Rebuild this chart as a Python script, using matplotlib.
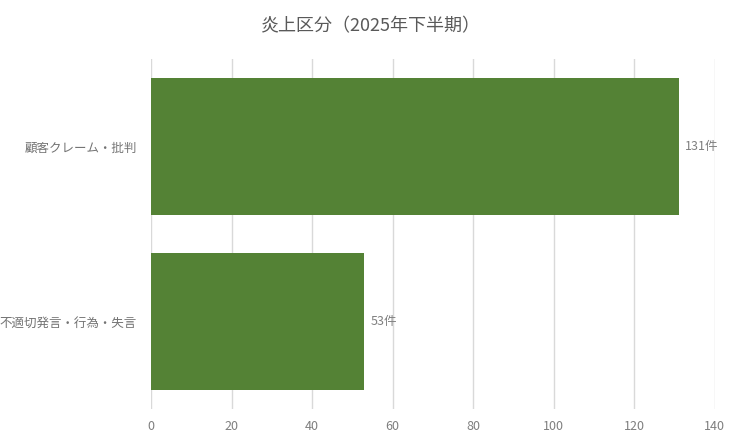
import matplotlib
matplotlib.use("Agg")
import matplotlib.pyplot as plt

plt.rcParams['font.family'] = ['Noto Sans CJK JP', 'DejaVu Sans']

categories = ["顧客クレーム・批判", "不適切発言・行為・失言"]
values = [131, 53]
xticks = [0, 20, 40, 60, 80, 100, 120, 140]
title = "炎上区分（2025年下半期）"
bar_color = "#548235"

fig = plt.figure(figsize=(7.41, 4.42), dpi=100)
ax = fig.add_axes([0.2038, 0.0747, 0.761, 0.792])

ypos = list(range(len(categories)))
ax.barh(ypos, values, height=0.78, color=bar_color, zorder=3)
ax.set_ylim(len(categories) - 0.5, -0.5)
ax.set_yticks(ypos)
ax.set_yticklabels(categories, fontsize=9, color="#737373")
ax.set_xlim(0, 140)
ax.set_xticks(xticks)
ax.set_xticklabels([str(t) for t in xticks], fontsize=9, color="#7f7f7f")
ax.tick_params(axis='both', length=0)
ax.tick_params(axis='x', pad=8)
ax.tick_params(axis='y', pad=10)
for s in ax.spines.values():
    s.set_visible(False)
ax.grid(axis='x', color="#d9d9d9", linewidth=1, zorder=0)
ax.set_axisbelow(True)

for y, v in zip(ypos, values):
    ax.text(v + 1.5, y, f"{v}件", va='center', ha='left', fontsize=9, color="#7f7f7f")

fig.text(0.5, 0.940, title, ha='center', va='center', fontsize=13, color="#595959")

fig.savefig("out.png", dpi=100, facecolor="white")
